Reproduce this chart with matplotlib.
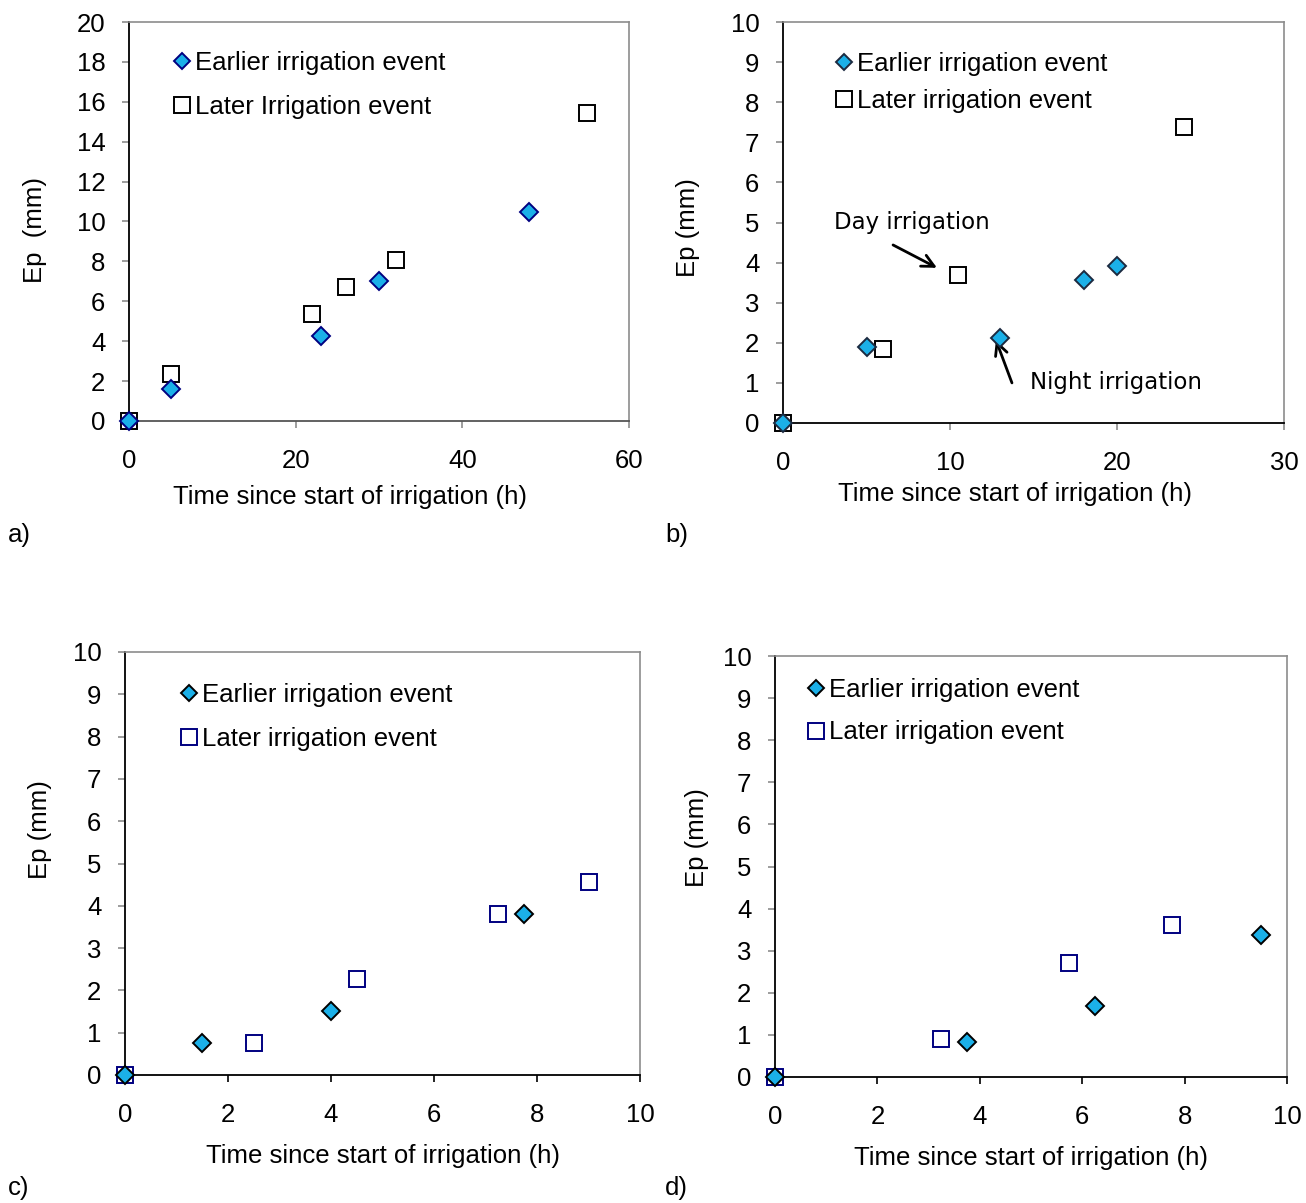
import matplotlib
matplotlib.use("Agg")
import matplotlib.pyplot as plt

plt.rcParams['font.family'] = ['Liberation Sans', 'DejaVu Sans']

W, H = 1306, 1203

# ---- data ----
# a) long irrigation events
a_early_t = [0, 5, 23, 30, 48]
a_early_ep = [0, 1.6, 4.25, 7.0, 10.5]
a_late_t = [0, 5, 22, 26, 32, 55]
a_late_ep = [0, 2.35, 5.35, 6.7, 8.05, 15.45]

# b) day vs night irrigation
b_early_t = [0, 5, 13, 18, 20]
b_early_ep = [0, 1.9, 2.12, 3.57, 3.92]
b_late_t = [0, 6, 10.5, 24]
b_late_ep = [0, 1.85, 3.69, 7.38]

# c)
c_early_t = [0, 1.5, 4, 7.75]
c_early_ep = [0, 0.76, 1.51, 3.8]
c_late_t = [0, 2.5, 4.5, 7.25, 9]
c_late_ep = [0, 0.76, 2.27, 3.8, 4.56]

# d)
d_early_t = [0, 3.75, 6.25, 9.5]
d_early_ep = [0, 0.83, 1.69, 3.37]
d_late_t = [0, 3.25, 5.75, 7.75]
d_late_ep = [0, 0.9, 2.71, 3.61]

XLABEL = "Time since start of irrigation (h)"
EARLY = "Earlier irrigation event"
FILL = '#1BB0E8'
FS = 18.5
MS_D = 8.8
MS_S = 12


def fx(x):
    return x / W


def fy(y):
    return 1 - y / H


def make_axes(fig, left, right, top, bottom):
    return fig.add_axes([fx(left), fy(bottom), fx(right - left), (bottom - top) / H])


def style_axes(ax, xmax, xstep, ymax, ystep, xtick_color, bottom_color):
    ax.set_xlim(0, xmax)
    ax.set_ylim(0, ymax)
    ax.set_xticks(range(0, xmax + 1, xstep))
    ax.set_yticks(range(0, ymax + 1, ystep))
    for s in ('top', 'right'):
        ax.spines[s].set_color('#8c8c8c')
        ax.spines[s].set_linewidth(1.2)
    ax.spines['left'].set_color('black')
    ax.spines['left'].set_linewidth(1.3)
    ax.spines['bottom'].set_color(bottom_color)
    ax.spines['bottom'].set_linewidth(1.3)
    ax.tick_params(axis='y', direction='out', length=5, width=1.2, color='#8c8c8c',
                   labelsize=FS, pad=12)
    ax.tick_params(axis='x', direction='out', length=5, width=1.2, color=xtick_color,
                   labelsize=FS, pad=15.5)
    ax.xaxis.get_major_ticks()[0].tick1line.set_visible(False)


def scatter_pair(ax, et, ee, lt, le, d_edge, s_edge):
    ax.plot(lt, le, linestyle='none', marker='s', markersize=MS_S,
            markerfacecolor='white', markeredgecolor=s_edge, markeredgewidth=1.4,
            clip_on=False, zorder=3)
    ax.plot(et, ee, linestyle='none', marker='D', markersize=MS_D,
            markerfacecolor=FILL, markeredgecolor=d_edge, markeredgewidth=1.4,
            clip_on=False, zorder=4)


def add_legend(ax, fig, x, y, late_label, d_edge, s_edge, spacing):
    h1 = plt.Line2D([], [], linestyle='none', marker='D', markersize=MS_D - 0.4,
                    markerfacecolor=FILL, markeredgecolor=d_edge, markeredgewidth=1.4)
    h2 = plt.Line2D([], [], linestyle='none', marker='s', markersize=MS_S - 0.5,
                    markerfacecolor='white', markeredgecolor=s_edge, markeredgewidth=1.4)
    ax.legend([h1, h2], [EARLY, late_label], loc='upper left',
              bbox_to_anchor=(fx(x), fy(y)), bbox_transform=fig.transFigure,
              frameon=False, fontsize=FS, handlelength=0.6, handletextpad=0.2,
              borderpad=0, borderaxespad=0, labelspacing=spacing)


def labels(ax, xl_pos, yl_pos, ylabel, left, right, top, bottom):
    ax.set_xlabel(XLABEL, fontsize=FS, va='center')
    ax.xaxis.set_label_coords((xl_pos[0] - left) / (right - left),
                              (bottom - xl_pos[1]) / (bottom - top))
    ax.set_ylabel(ylabel, fontsize=FS, va='center')
    ax.yaxis.set_label_coords((yl_pos[0] - left) / (right - left),
                              (bottom - yl_pos[1]) / (bottom - top))


fig = plt.figure(figsize=(W / 100, H / 100), dpi=100)
fig.patch.set_facecolor('white')

# a)
box = (129, 629, 22, 421)
ax = make_axes(fig, *box)
style_axes(ax, 60, 20, 20, 2, '#8c8c8c', '#555555')
scatter_pair(ax, a_early_t, a_early_ep, a_late_t, a_late_ep, '#000080', 'black')
add_legend(ax, fig, 174, 51, "Later Irrigation event", '#000080', 'black', 0.78)
labels(ax, (350, 497), (35, 230), "Ep  (mm)", *box)

# b)
box = (783, 1284, 22, 423)
ax = make_axes(fig, *box)
style_axes(ax, 30, 10, 10, 1, '#8c8c8c', 'black')
scatter_pair(ax, b_early_t, b_early_ep, b_late_t, b_late_ep, '#1c2a40', 'black')
add_legend(ax, fig, 836, 52, "Later irrigation event", '#1c2a40', 'black', 0.5)
labels(ax, (1015, 494), (688, 228), "Ep (mm)", *box)
arrow = dict(arrowstyle='->', color='black', lw=2, mutation_scale=22,
             shrinkA=0, shrinkB=0)
ax.annotate("", xy=(9.22, 3.87), xytext=(6.59, 4.44), arrowprops=arrow)
ax.annotate("", xy=(12.75, 2.07), xytext=(13.71, 1.0), arrowprops=arrow)
ax.text(3.05, 5.01, "Day irrigation", fontsize=16.5, family='DejaVu Sans',
        ha='left', va='center')
ax.text(14.79, 1.0, "Night irrigation", fontsize=16.5, family='DejaVu Sans',
        ha='left', va='center')

# c)
box = (125, 640, 652, 1075)
ax = make_axes(fig, *box)
style_axes(ax, 10, 2, 10, 1, 'black', 'black')
scatter_pair(ax, c_early_t, c_early_ep, c_late_t, c_late_ep, 'black', '#000080')
add_legend(ax, fig, 181, 683, "Later irrigation event", 'black', '#000080', 0.78)
labels(ax, (383, 1156), (40, 830), "Ep (mm)", *box)

# d)
box = (775, 1287, 656, 1077)
ax = make_axes(fig, *box)
style_axes(ax, 10, 2, 10, 1, 'black', 'black')
scatter_pair(ax, d_early_t, d_early_ep, d_late_t, d_late_ep, 'black', '#000080')
add_legend(ax, fig, 808, 678, "Later irrigation event", 'black', '#000080', 0.72)
labels(ax, (1031, 1158), (697, 838), "Ep (mm)", *box)

# panel letters
for letter, (px, py) in zip(["a)", "b)", "c)", "d)"],
                            [(8, 535), (665, 535), (8, 1188), (665, 1188)]):
    fig.text(fx(px), fy(py), letter, fontsize=FS, ha='left', va='center')

fig.savefig("out.png", dpi=100, facecolor='white')
